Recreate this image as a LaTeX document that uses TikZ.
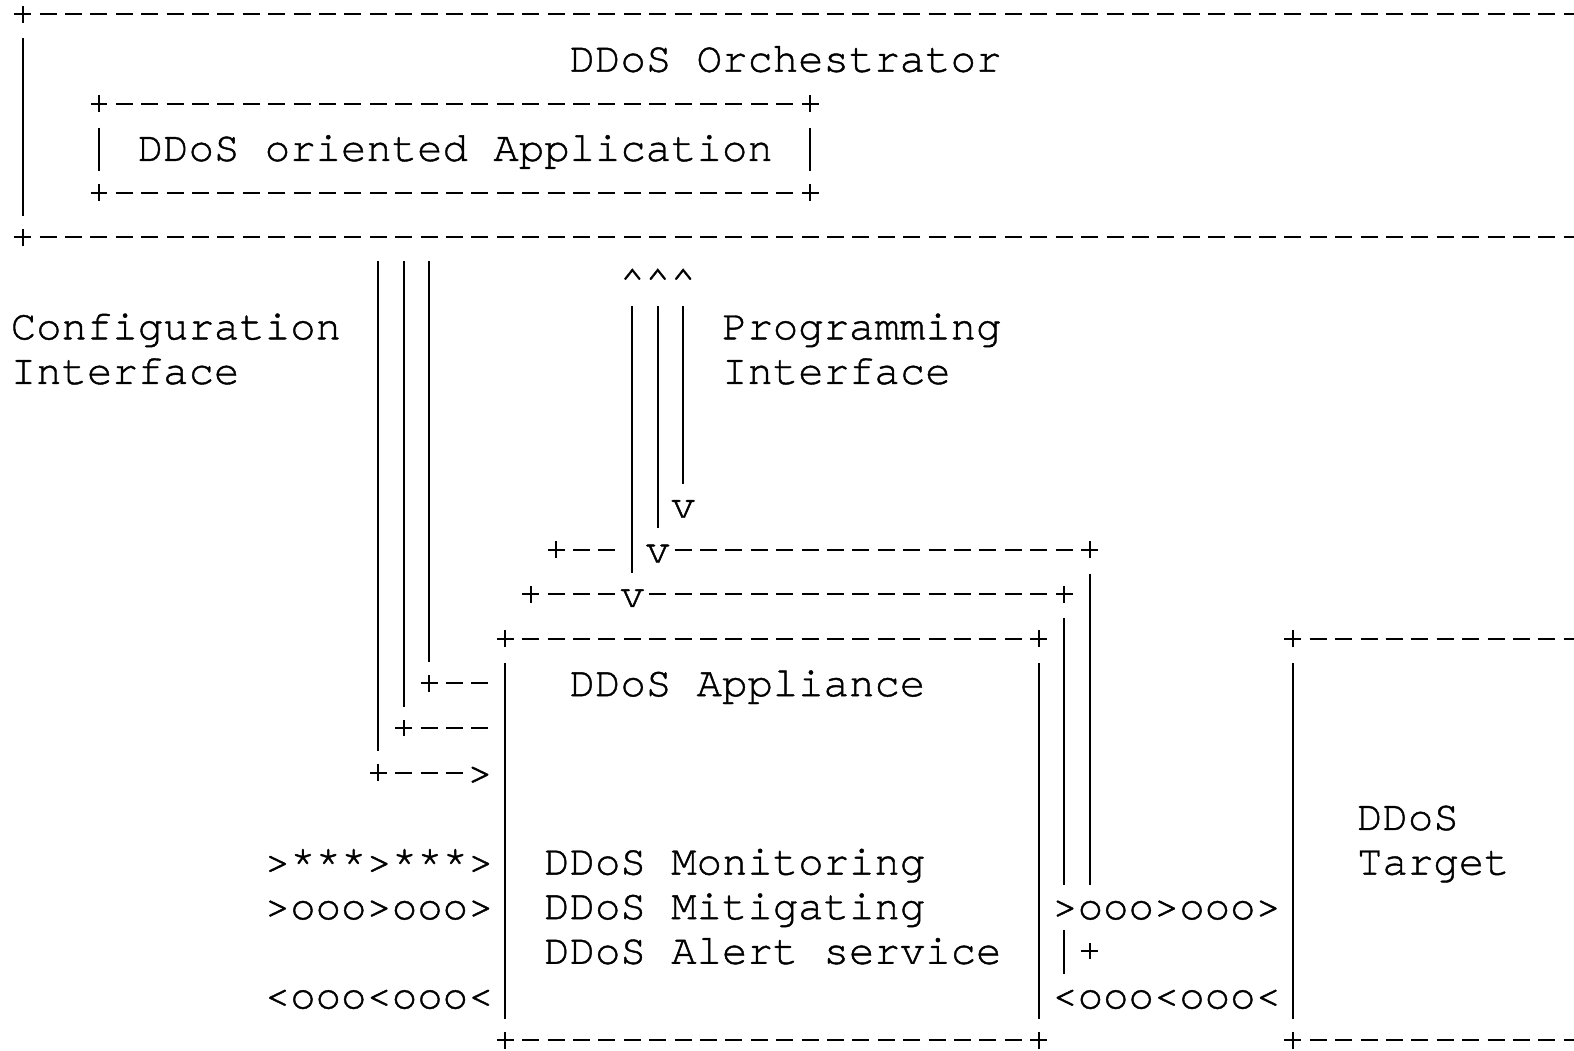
\documentclass[tikz,border=0pt]{standalone}
\usepackage{fontspec}
\setmonofont[Ligatures={NoCommon,NoRequired,NoContextual}, FakeBold=1]{texgyrecursor-regular.otf}

\newcommand{\ascii}{\ttfamily\fontsize{10.583pt}{11.15pt}\selectfont}
\newcommand{\crossat}[1]{\draw[vbar] ([xshift=-2.1pt]#1) -- ([xshift=2.1pt]#1) ([yshift=-2.1pt]#1) -- ([yshift=2.1pt]#1);}
\newcommand{\asciibox}[1]{%
  \draw[hdash] ([xshift=3.175pt]#1.north west) -- ([xshift=-3.175pt]#1.north east)
               ([xshift=3.175pt]#1.south west) -- ([xshift=-3.175pt]#1.south east);
  \draw[vbar] ([yshift=-6.02pt]#1.north west) -- ([yshift=5.35pt]#1.south west)
              ([yshift=-6.02pt]#1.north east) -- ([yshift=5.35pt]#1.south east);
  \foreach \c in {north west,north east,south west,south east} {\crossat{#1.\c}}%
}

\begin{document}
\begin{tikzpicture}[x=6.35pt, y=11.15pt]
  \tikzstyle{txt} = [font=\ascii, inner sep=0pt, anchor=base west, xshift=-3.175pt, yshift=-3.2pt]
  \tikzstyle{glyph} = [font=\ascii, inner sep=0pt, anchor=base, yshift=-3.2pt]
  \tikzstyle{boxnode} = [inner sep=0pt, outer sep=0pt, anchor=north west]
  \tikzstyle{vbar} = [line width=0.5pt]
  \tikzstyle{hdash} = [line width=0.5pt, dash pattern=on 4.25pt off 2.1pt, dash phase=5.3pt]

  \useasboundingbox (-0.894,0.321) rectangle (61.07,-23.222);

  % boxes
  \node (orch) [boxnode, minimum width=66*6.35pt, minimum height=5*11.15pt] at (0,0) {};
  \node (app) [boxnode, minimum width=28*6.35pt, minimum height=2*11.15pt] at (3,-2) {};
  \node (applC) [boxnode, minimum width=21*6.35pt, minimum height=9*11.15pt] at (19,-14) {};
  \node (applB) [boxnode, minimum width=21*6.35pt, minimum height=9*11.15pt] at (20,-13) {};
  \node (applA) [boxnode, minimum width=21*6.35pt, minimum height=9*11.15pt] at (21,-12) {};
  \node (target) [boxnode, minimum width=20*6.35pt, minimum height=9*11.15pt] at (50,-14) {};
  \asciibox{orch}
  \asciibox{app}
  \asciibox{applC}
  \asciibox{target}

  % appliances stacked behind
  \crossat{applA.north west} \crossat{applA.north east} \crossat{applA.south east}
  \draw[hdash] (21.5,-12) -- (23.5,-12) (25.5,-12) -- (41.5,-12);
  \draw[vbar] (42,-12.54) -- (42,-19.52);
  \crossat{applB.north west} \crossat{applB.north east}
  \draw[hdash] (20.5,-13) -- (23.5,-13) (24.5,-13) -- (40.5,-13);
  \draw[vbar] (41,-13.54) -- (41,-19.52) (41,-20.54) -- (41,-21.52);

  % labels
  \node (orchlbl) [txt] at (22,-1) {DDoS Orchestrator};
  \node (applbl) [txt] at (5,-3) {DDoS oriented Application};
  \node (cfglbl) [txt] at (0,-7) {Configuration};
  \node (cfglbl2) [txt] at (0,-8) {Interface};
  \node (prglbl) [txt] at (28,-7) {Programming};
  \node (prglbl2) [txt] at (28,-8) {Interface};
  \node (appllbl) [txt] at (22,-15) {DDoS Appliance};
  \node (mon) [txt] at (21,-19) {DDoS Monitoring};
  \node (mit) [txt] at (21,-20) {DDoS Mitigating};
  \node (alert) [txt] at (21,-21) {DDoS Alert service};
  \node (tgtlbl) [txt] at (53,-18) {DDoS};
  \node (tgtlbl2) [txt] at (53,-19) {Target};

  % traffic
  \node (atkin) [txt] at (10,-19) {>***>***>};
  \node (trafin) [txt] at (10,-20) {>ooo>ooo>};
  \node (trafback) [txt] at (10,-22) {<ooo<ooo<};
  \node (trafout) [txt] at (41,-20) {>ooo>ooo>};
  \node (trafret) [txt] at (41,-22) {<ooo<ooo<};

  % configuration interface
  \foreach \x/\r/\e in {14/17/17.5, 15/16/18.5, 16/15/18.5} {
    \draw[vbar] (orch.south -| \x,0) ++(0,-0.54) -- (\x,-\r+0.48);
    \crossat{\x,-\r}
    \draw[hdash] (\x+0.5,-\r) -- (\e,-\r);
  }
  \node (cfghead) [glyph] at (18,-17) {>};

  % programming interface
  \foreach \x/\r/\e in {24/13/-12.52, 25/12/-11.52, 26/11/-10.52} {
    \node (up\x) [glyph] at (\x,-6) {\textasciicircum};
    \node (down\x) [glyph] at (\x,-\r) {v};
    \draw[vbar] (up\x |- 0,-6.54) -- (down\x |- 0,\e);
  }
\end{tikzpicture}
\end{document}
